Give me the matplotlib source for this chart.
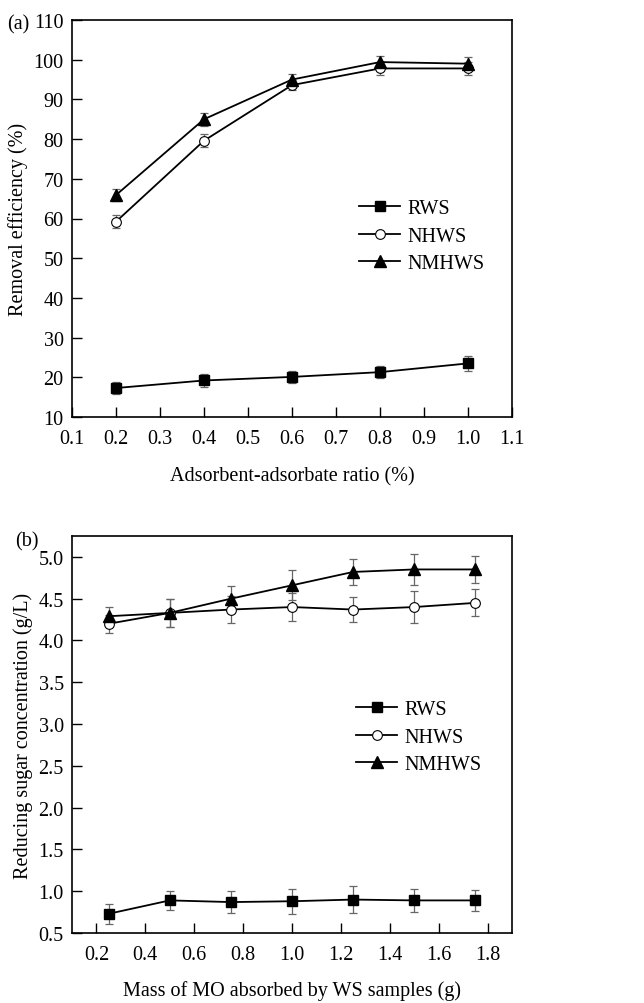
import matplotlib
matplotlib.use("Agg")
import matplotlib.pyplot as plt

plt.rcParams['font.family'] = ['Liberation Serif', 'DejaVu Serif']
plt.rcParams['mathtext.fontset'] = 'stix'

# Panel (a)
ratio = [0.2, 0.4, 0.6, 0.8, 1.0]
a_rws = [17.3, 19.2, 20.1, 21.3, 23.5]
a_rws_err = [1.6, 1.7, 1.6, 1.6, 1.8]
a_nhws = [59.2, 79.6, 93.6, 97.8, 97.8]
a_nhws_err = [1.7, 1.7, 1.3, 1.6, 1.6]
a_nmhws = [65.9, 85.0, 95.0, 99.4, 99.0]
a_nmhws_err = [1.6, 1.6, 1.5, 1.5, 1.6]

# Panel (b)
mass = [0.25, 0.5, 0.75, 1.0, 1.25, 1.5, 1.75]
b_rws = [0.73, 0.89, 0.87, 0.88, 0.90, 0.89, 0.89]
b_rws_err = [0.12, 0.11, 0.13, 0.15, 0.16, 0.14, 0.13]
b_nhws = [4.20, 4.33, 4.37, 4.40, 4.37, 4.40, 4.45]
b_nhws_err = [0.11, 0.17, 0.16, 0.17, 0.15, 0.19, 0.16]
b_nmhws = [4.29, 4.33, 4.50, 4.66, 4.82, 4.85, 4.85]
b_nmhws_err = [0.11, 0.17, 0.15, 0.18, 0.16, 0.19, 0.16]

a_xticks = [0.1, 0.2, 0.3, 0.4, 0.5, 0.6, 0.7, 0.8, 0.9, 1.0, 1.1]
a_yticks = [10, 20, 30, 40, 50, 60, 70, 80, 90, 100, 110]
b_xticks = [0.2, 0.4, 0.6, 0.8, 1.0, 1.2, 1.4, 1.6, 1.8]
b_yticks = [0.5, 1.0, 1.5, 2.0, 2.5, 3.0, 3.5, 4.0, 4.5, 5.0]

labels = ['RWS', 'NHWS', 'NMHWS']
FS = 14.5

fig = plt.figure(figsize=(6.44, 10.04), dpi=100)
W, H = 644, 1004
ax1 = fig.add_axes([72 / W, 1 - 418 / H, 440 / W, 397 / H])
ax2 = fig.add_axes([72 / W, 1 - 934 / H, 440 / W, 397 / H])

styles = [dict(marker='s', mfc='black', mec='black', ms=6.5),
          dict(marker='o', mfc='white', mec='black', ms=7, mew=0.8),
          dict(marker='^', mfc='black', mec='black', ms=8)]

def draw(ax, x, series, errs):
    handles = []
    for y, e, st, lab in zip(series, errs, styles, labels):
        ax.errorbar(x, y, yerr=e, fmt='none', ecolor='#666666', elinewidth=0.9,
                    capsize=3, capthick=0.9, zorder=2)
        h, = ax.plot(x, y, color='black', lw=1.3, label=lab, zorder=3, **st)
        handles.append(h)
    return handles

h1 = draw(ax1, ratio, [a_rws, a_nhws, a_nmhws], [a_rws_err, a_nhws_err, a_nmhws_err])
h2 = draw(ax2, mass, [b_rws, b_nhws, b_nmhws], [b_rws_err, b_nhws_err, b_nmhws_err])

ax1.set_xlim(0.1, 1.1)
ax1.set_ylim(10, 110)
ax1.set_xticks(a_xticks)
ax1.set_xticklabels(['%.1f' % v for v in a_xticks])
ax1.set_yticks(a_yticks)
ax1.set_xlabel('Adsorbent-adsorbate ratio (%)', fontsize=FS, va='center')
ax1.set_ylabel('Removal efficiency (%)', fontsize=FS, va='center')
ax1.xaxis.set_label_coords(0.5, -(477 - 418) / 397)
ax1.yaxis.set_label_coords(-(72 - 18) / 440, 0.5)

ax2.set_xlim(0.1, 1.9)
ax2.set_ylim(0.5, 5.25)
ax2.set_xticks(b_xticks)
ax2.set_yticks(b_yticks)
ax2.set_xticklabels(['%.1f' % v for v in b_xticks])
ax2.set_yticklabels(['%.1f' % v for v in b_yticks])
ax2.set_xlabel('Mass of MO absorbed by WS samples (g)', fontsize=FS, va='center')
ax2.set_ylabel('Reducing sugar concentration (g/L)', fontsize=FS, va='center')
ax2.xaxis.set_label_coords(0.5, -(991 - 934) / 397)
ax2.yaxis.set_label_coords(-(72 - 23) / 440, 0.5)

for ax in (ax1, ax2):
    ax.tick_params(direction='in', length=7, width=1, labelsize=FS,
                   top=False, right=False)
    ax.tick_params(axis='x', pad=9)
    ax.tick_params(axis='y', pad=6)
    for s in ax.spines.values():
        s.set_linewidth(1.2)

leg_kw = dict(frameon=False, fontsize=FS, handlelength=2.05, handletextpad=0.35,
              labelspacing=0.42, borderaxespad=0)
ax1.legend(handles=h1, loc='upper left', bbox_to_anchor=(279 / 440, 1 - (192 - 21) / 397), **leg_kw)
ax2.legend(handles=h2, loc='upper left', bbox_to_anchor=(276 / 440, 1 - (693 - 537) / 397), **leg_kw)

fig.text(7 / W, 1 - 25 / H, '(a)', fontsize=FS, va='center', ha='left')
fig.text(15 / W, 1 - 542 / H, '(b)', fontsize=FS, va='center', ha='left')

fig.savefig('out.png', dpi=100)
